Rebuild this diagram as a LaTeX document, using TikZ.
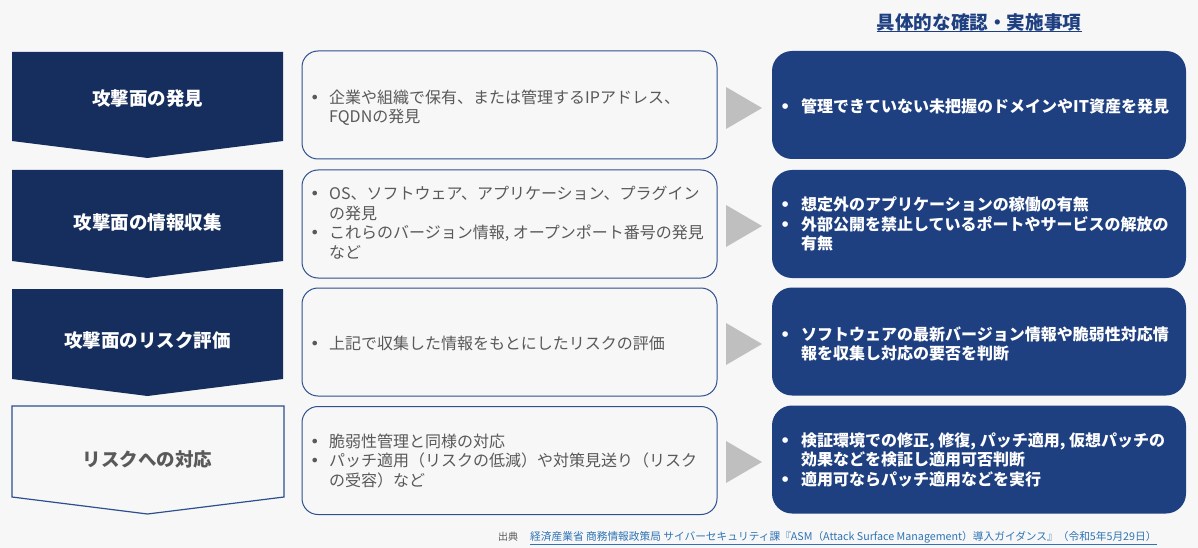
\documentclass[tikz,border=0pt]{standalone}
\usepackage{fontspec}
\setmainfont{Noto Sans CJK JP}
\newfontfamily\bulletfont{DejaVu Sans}
\definecolor{bg}{HTML}{F7F7F7}
\definecolor{navy}{HTML}{162E5D}
\definecolor{rblue}{HTML}{1E3F80}
\definecolor{mborder}{HTML}{2E4F8E}
\definecolor{gtext}{HTML}{595959}
\definecolor{tri}{HTML}{BFBFBF}
\definecolor{linkc}{HTML}{2E74B5}
\newcommand{\bmid}{\makebox[19pt][l]{{\bulletfont •}}}
\newcommand{\brt}{\makebox[21pt][l]{{\bulletfont •}}}
\begin{document}
\begin{tikzpicture}[x=1pt,y=-1pt,
  stagelabel/.style={inner sep=0pt,font=\fontsize{18.5}{22}\selectfont\bfseries,text=white},
  midbox/.style={draw=mborder,line width=1pt,fill=bg,rounded corners=16pt,minimum width=415pt,minimum height=108pt,inner sep=0pt},
  rtbox/.style={fill=rblue,rounded corners=20pt,minimum width=414pt,minimum height=108pt,inner sep=0pt},
  midtext/.style={anchor=west,inner sep=0pt,align=left,text=gtext,font=\fontsize{16}{19.7}\selectfont},
  rttext/.style={anchor=west,inner sep=0pt,align=left,text=white,font=\fontsize{16}{19.5}\selectfont\bfseries},
  tri/.style={fill=tri}]
\useasboundingbox[fill=bg] (0,0) rectangle (1198,548);

% title
\node[inner sep=0pt,text=rblue,font=\fontsize{18.6}{22}\selectfont\bfseries] (title) at (979,22) {具体的な確認・実施事項};
\draw[rblue,line width=1pt] (title.west |- 0,32) -- (title.east |- 0,32);

% left stages
\fill[navy] (12,52) -- (283,52) -- (283,141) -- (147.5,158) -- (12,141) -- cycle;
\fill[navy] (12,170) -- (283,170) -- (283,261) -- (147.5,278) -- (12,261) -- cycle;
\fill[navy] (12,289) -- (283,289) -- (283,379) -- (147.5,396) -- (12,379) -- cycle;
\draw[mborder,line width=1.2pt,fill=bg] (12,406) -- (284,406) -- (284,497) -- (147.5,514) -- (12,497) -- cycle;
\node[stagelabel] (s1) at (147.5,98) {攻撃面の発見};
\node[stagelabel] (s2) at (147.5,222) {攻撃面の情報収集};
\node[stagelabel] (s3) at (147.5,340) {攻撃面のリスク評価};
\node[stagelabel,text=gtext] (s4) at (147.5,459) {リスクへの対応};

% middle boxes
\node[midbox] (m1) at (509.5,105) {};
\node[midbox] (m2) at (509.5,224) {};
\node[midbox] (m3) at (509.5,342) {};
\node[midbox] (m4) at (509.5,460.5) {};
\node[midtext] (t1) at (310,109) {\begin{tabular}{@{}l@{}l@{}}\bmid & 企業や組織で保有、または管理するIPアドレス、\\ & FQDNの発見\end{tabular}};
\node[midtext] (t2) at (310,225) {\begin{tabular}{@{}l@{}l@{}}\bmid & OS、ソフトウェア、アプリケーション、プラグイン\\ & の発見\\ \bmid & これらのバージョン情報, オープンポート番号の発見\\ & など\end{tabular}};
\node[midtext] (t3) at (310,346) {\begin{tabular}{@{}l@{}l@{}}\bmid & 上記で収集した情報をもとにしたリスクの評価\end{tabular}};
\node[midtext] (t4) at (310,463) {\begin{tabular}{@{}l@{}l@{}}\bmid & 脆弱性管理と同様の対応\\ \bmid & パッチ適用（リスクの低減）や対策見送り（リスク\\ & の受容）など\end{tabular}};

% arrows
\fill[tri] (726,87) -- (762,108) -- (726,129) -- cycle;
\fill[tri] (726,205) -- (762,226) -- (726,247) -- cycle;
\fill[tri] (726,323) -- (762,344) -- (726,365) -- cycle;
\fill[tri] (726,441) -- (762,462) -- (726,483) -- cycle;

% right boxes
\node[rtbox] (r1) at (979,105) {};
\node[rtbox] (r2) at (979,224) {};
\node[rtbox] (r3) at (979,341.5) {};
\node[rtbox] (r4) at (979,459.5) {};
\node[rttext] (u1) at (780,109) {\begin{tabular}{@{}l@{}l@{}}\brt & 管理できていない未把握のドメインやIT資産を発見\end{tabular}};
\node[rttext] (u2) at (780,226) {\begin{tabular}{@{}l@{}l@{}}\brt & 想定外のアプリケーションの稼働の有無\\ \brt & 外部公開を禁止しているポートやサービスの解放の\\ & 有無\end{tabular}};
\node[rttext] (u3) at (780,346) {\begin{tabular}{@{}l@{}l@{}}\brt & ソフトウェアの最新バージョン情報や脆弱性対応情\\ & 報を収集し対応の要否を判断\end{tabular}};
\node[rttext] (u4) at (780,462) {\begin{tabular}{@{}l@{}l@{}}\brt & 検証環境での修正, 修復, パッチ適用, 仮想パッチの\\ & 効果などを検証し適用可否判断\\ \brt & 適用可ならパッチ適用などを実行\end{tabular}};

% source
\node[anchor=west,inner sep=0pt,text=gtext,font=\fontsize{10}{12}\selectfont] (src) at (498,537) {出典};
\node[anchor=west,inner sep=0pt,text=linkc,font=\fontsize{10.7}{12}\selectfont] (lnk) at (530,537) {経済産業省 商務情報政策局 サイバーセキュリティ課『ASM（Attack Surface Management）導入ガイダンス』（令和5年5月29日）};
\draw[linkc,line width=0.6pt] (lnk.west |- 0,544) -- (lnk.east |- 0,544);
\end{tikzpicture}
\end{document}
